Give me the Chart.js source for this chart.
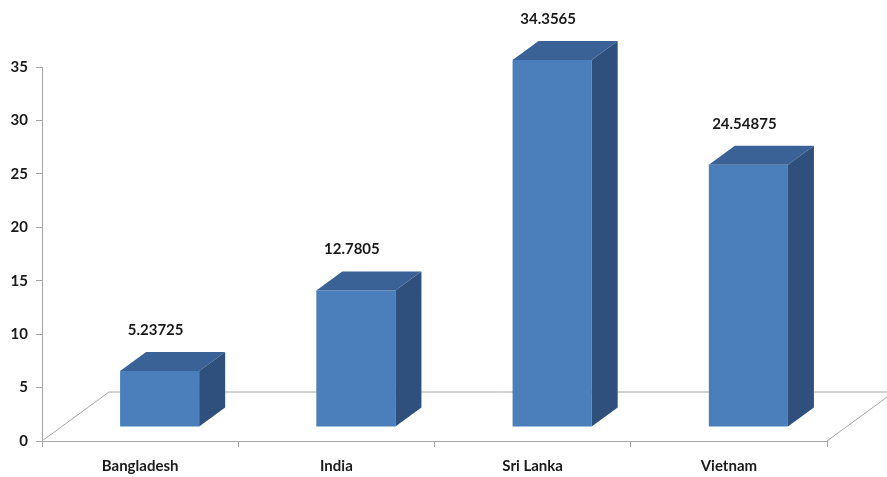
<!DOCTYPE html>
<html>
<head>
<meta charset="utf-8">
<script src="https://cdn.jsdelivr.net/npm/chart.js@4/dist/chart.umd.min.js"></script>
<style>
  html, body { margin: 0; padding: 0; background: #fff; }
  #wrap { width: 887px; height: 477px; }
</style>
</head>
<body>
<div id="wrap"><canvas id="barChart"></canvas></div>
<script>
const countries = ['Bangladesh', 'India', 'Sri Lanka', 'Vietnam'];
const values = [5.23725, 12.7805, 34.3565, 24.54875];
const yTicks = [0, 5, 10, 15, 20, 25, 30, 35];

// fake 3d look: floor depth, where the bar front sits in it, and the bar depth
const FLOOR = { dx: 67, dy: -49 };
const SHIFT = { dx: 19.5, dy: -14 };
const DEPTH = { dx: 26, dy: -19 };
const FONT = { family: 'Lato', size: 15, weight: 'bold' };

const fake3d = {
    id: 'fake3d',
    beforeDatasetsDraw(chart) {
        const { ctx, chartArea: a } = chart;
        ctx.save();
        ctx.strokeStyle = '#a6a6a6';
        ctx.lineWidth = 1;
        ctx.beginPath();
        ctx.moveTo(a.left, a.bottom);
        ctx.lineTo(a.left + FLOOR.dx, a.bottom + FLOOR.dy);
        ctx.lineTo(a.right + FLOOR.dx, a.bottom + FLOOR.dy);
        ctx.lineTo(a.right, a.bottom);
        ctx.stroke();
        ctx.restore();
        ctx.save();
        ctx.translate(SHIFT.dx, SHIFT.dy);
    },
    afterDatasetsDraw(chart) {
        const { ctx } = chart;
        const meta = chart.getDatasetMeta(0);
        meta.data.forEach(bar => {
            const p = bar.getProps(['x', 'y', 'base', 'width'], true);
            const l = p.x - p.width / 2, r = p.x + p.width / 2;
            // top face
            ctx.fillStyle = '#3b6297';
            ctx.beginPath();
            ctx.moveTo(l, p.y);
            ctx.lineTo(l + DEPTH.dx, p.y + DEPTH.dy);
            ctx.lineTo(r + DEPTH.dx, p.y + DEPTH.dy);
            ctx.lineTo(r, p.y);
            ctx.closePath();
            ctx.fill();
            // side face
            ctx.fillStyle = '#2f4f7c';
            ctx.beginPath();
            ctx.moveTo(r, p.y);
            ctx.lineTo(r + DEPTH.dx, p.y + DEPTH.dy);
            ctx.lineTo(r + DEPTH.dx, p.base + DEPTH.dy);
            ctx.lineTo(r, p.base);
            ctx.closePath();
            ctx.fill();
        });
        ctx.restore();

        // value labels above the bars
        ctx.save();
        ctx.font = `${FONT.weight} ${FONT.size}px ${FONT.family}`;
        ctx.fillStyle = '#1a1a1a';
        ctx.textAlign = 'center';
        ctx.textBaseline = 'middle';
        meta.data.forEach((bar, i) => {
            ctx.fillText(String(values[i]), bar.x + SHIFT.dx - 4, bar.y + SHIFT.dy - 41);
        });
        ctx.restore();
    }
};

new Chart(document.getElementById('barChart'), {
    type: 'bar',
    data: {
        labels: countries,
        datasets: [{
            data: values,
            backgroundColor: '#4b7fbc',
            borderWidth: 0,
            barPercentage: 0.403,
            categoryPercentage: 1,
            clip: false
        }]
    },
    options: {
        responsive: true,
        maintainAspectRatio: false,
        animation: false,
        layout: { padding: { top: 67, right: 60, bottom: 0, left: 0 } },
        plugins: { legend: { display: false }, tooltip: { enabled: false } },
        scales: {
            x: {
                afterFit(scale) { scale.height = 36; },
                border: { color: '#a6a6a6' },
                grid: { display: true, drawOnChartArea: false, offset: true, tickLength: 6, color: '#a6a6a6' },
                ticks: { color: '#1a1a1a', font: FONT, padding: 10 }
            },
            y: {
                min: 0,
                max: 35,
                afterFit(scale) { scale.width = 42; },
                afterBuildTicks(scale) { scale.ticks = yTicks.map(v => ({ value: v })); },
                border: { color: '#a6a6a6' },
                grid: { display: true, drawOnChartArea: false, tickLength: 6, color: '#a6a6a6' },
                ticks: { color: '#1a1a1a', font: FONT, padding: 8 }
            }
        }
    },
    plugins: [fake3d]
});
</script>
</body>
</html>
